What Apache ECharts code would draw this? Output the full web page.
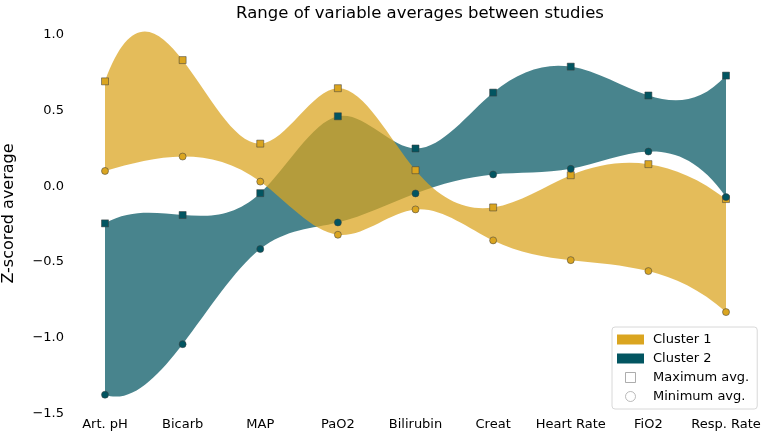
<!DOCTYPE html>
<html>
<head>
<meta charset="utf-8">
<script src="https://cdn.jsdelivr.net/npm/echarts@6/dist/echarts.min.js"></script>
<style>html,body{margin:0;padding:0;background:#fff}#c{width:762px;height:432px}</style>
</head>
<body>
<div id="c"></div>
<script>
var categories = ['Art. pH', 'Bicarb', 'MAP', 'PaO2', 'Bilirubin', 'Creat', 'Heart Rate', 'FiO2', 'Resp. Rate'];
var cluster1Max = [0.69, 0.83, 0.28, 0.645, 0.105, -0.14, 0.072, 0.145, -0.085];
var cluster1Min = [0.10, 0.195, 0.03, -0.32, -0.153, -0.357, -0.487, -0.559, -0.829];
var cluster2Max = [-0.245, -0.19, -0.046, 0.46, 0.248, 0.616, 0.787, 0.597, 0.728];
var cluster2Min = [-1.373, -1.04, -0.414, -0.239, -0.048, 0.077, 0.114, 0.228, -0.072];
var yTicks = [-1.5, -1.0, -0.5, 0.0, 0.5, 1.0];

var GOLD = '#DAA520', TEAL = '#025561';
var GOLD_FILL = 'rgba(218,165,32,0.74)', TEAL_FILL = 'rgba(2,85,97,0.72)';
var FONT = 'DejaVu Sans';

// Second derivatives of a not-a-knot cubic spline through (i, y[i]), unit spacing.
function splineM(y) {
  var n = y.length, A = [], b = [], i, j, k;
  for (i = 0; i < n; i++) { A.push(new Array(n).fill(0)); b.push(0); }
  A[0][0] = 1; A[0][1] = -2; A[0][2] = 1;
  for (i = 1; i < n - 1; i++) {
    A[i][i - 1] = 1; A[i][i] = 4; A[i][i + 1] = 1;
    b[i] = 6 * (y[i + 1] - 2 * y[i] + y[i - 1]);
  }
  A[n - 1][n - 3] = 1; A[n - 1][n - 2] = -2; A[n - 1][n - 1] = 1;
  for (k = 0; k < n; k++) {
    var p = k;
    for (i = k + 1; i < n; i++) if (Math.abs(A[i][k]) > Math.abs(A[p][k])) p = i;
    var t = A[k]; A[k] = A[p]; A[p] = t; var tb = b[k]; b[k] = b[p]; b[p] = tb;
    for (i = k + 1; i < n; i++) {
      var f = A[i][k] / A[k][k];
      for (j = k; j < n; j++) A[i][j] -= f * A[k][j];
      b[i] -= f * b[k];
    }
  }
  var M = new Array(n).fill(0);
  for (i = n - 1; i >= 0; i--) {
    var s = b[i];
    for (j = i + 1; j < n; j++) s -= A[i][j] * M[j];
    M[i] = s / A[i][i];
  }
  return M;
}

// Bezier control points (data space) for each spline segment.
function bezierSegs(y) {
  var M = splineM(y), segs = [];
  for (var i = 0; i < y.length - 1; i++) {
    var dy = y[i + 1] - y[i];
    var d0 = dy - (2 * M[i] + M[i + 1]) / 6;
    var d1 = dy + (M[i] + 2 * M[i + 1]) / 6;
    segs.push([[i, y[i]], [i + 1 / 3, y[i] + d0 / 3], [i + 2 / 3, y[i + 1] - d1 / 3], [i + 1, y[i + 1]]]);
  }
  return segs;
}

function bandSeries(name, minArr, maxArr, fill, z) {
  return {
    type: 'custom', name: name, coordinateSystem: 'cartesian2d', z: z, clip: false, silent: true,
    data: [[0, maxArr[0]]],
    itemStyle: { color: fill },
    renderItem: function (params, api) {
      // category axis rounds fractional positions, so place x linearly between category 0 and 1
      var x0 = api.coord([0, 0])[0], x1 = api.coord([1, 0])[0];
      function c(pt) {
        var px = x0 + pt[0] * (x1 - x0);
        var py = api.coord([0, pt[1]])[1];
        return px.toFixed(2) + ' ' + py.toFixed(2);
      }
      var top = bezierSegs(maxArr), bot = bezierSegs(minArr);
      var d = 'M ' + c(top[0][0]);
      top.forEach(function (s) { d += ' C ' + c(s[1]) + ' ' + c(s[2]) + ' ' + c(s[3]); });
      d += ' L ' + c(bot[bot.length - 1][3]);
      for (var i = bot.length - 1; i >= 0; i--) {
        var s = bot[i];
        d += ' C ' + c(s[2]) + ' ' + c(s[1]) + ' ' + c(s[0]);
      }
      d += ' Z';
      return { type: 'path', shape: { pathData: d }, style: { fill: fill, stroke: null } };
    }
  };
}

function markers(data, shape, color, z) {
  return { type: 'scatter', data: data, symbol: shape, symbolSize: 7, z: z, clip: false, silent: true,
    itemStyle: { color: color, borderColor: 'rgba(60,60,60,0.65)', borderWidth: 0.8, opacity: 1 } };
}

var series = [
  bandSeries('Cluster 2', cluster2Min, cluster2Max, TEAL_FILL, 1),
  bandSeries('Cluster 1', cluster1Min, cluster1Max, GOLD_FILL, 2),
  markers(cluster1Max, 'rect', GOLD, 5),
  markers(cluster1Min, 'circle', GOLD, 5),
  markers(cluster2Max, 'rect', TEAL, 6),
  markers(cluster2Min, 'circle', TEAL, 6),
  { type: 'scatter', name: 'Maximum avg.', data: [], itemStyle: { color: '#fff', borderColor: '#999', borderWidth: 1 } },
  { type: 'scatter', name: 'Minimum avg.', data: [], itemStyle: { color: '#fff', borderColor: '#999', borderWidth: 1 } }
];

var chart = echarts.init(document.getElementById('c'), null, { renderer: 'canvas' });
chart.setOption({
  animation: false,
  backgroundColor: '#fff',
  textStyle: { fontFamily: FONT },
  title: {
    text: 'Range of variable averages between studies',
    left: 415, top: 0, textAlign: 'center',
    textStyle: { fontFamily: FONT, fontSize: 16.5, fontWeight: 'normal', color: '#000' }
  },
  grid: { left: 105, right: 36, top: 13, bottom: 18, containLabel: false, outerBoundsMode: 'none' },
  legend: {
    orient: 'vertical', left: 612, top: 327,
    padding: [6, 8, 6, 5], itemGap: 6, itemWidth: 27, itemHeight: 10,
    borderColor: '#d8d8d8', borderWidth: 1, borderRadius: 3, backgroundColor: 'rgba(255,255,255,0.85)',
    textStyle: { fontFamily: FONT, fontSize: 13, color: '#000', padding: [0, 0, 0, 4] },
    data: [
      { name: 'Cluster 1', icon: 'rect', itemStyle: { color: GOLD, borderWidth: 0 } },
      { name: 'Cluster 2', icon: 'rect', itemStyle: { color: TEAL, borderWidth: 0 } },
      { name: 'Maximum avg.', icon: 'path://M0,0H10V10H0Z', itemStyle: { color: '#fff', borderColor: '#999', borderWidth: 1 } },
      { name: 'Minimum avg.', icon: 'circle', itemStyle: { color: '#fff', borderColor: '#aaa', borderWidth: 1 } }
    ],
    selectedMode: false
  },
  xAxis: {
    type: 'category', data: categories, boundaryGap: false,
    axisLine: { show: false }, axisTick: { show: false }, splitLine: { show: false },
    axisLabel: { fontFamily: FONT, fontSize: 13, color: '#000', margin: 4, interval: 0 }
  },
  yAxis: {
    type: 'value', min: yTicks[0], max: 1.14, interval: 0.5,
    name: 'Z-scored average', nameLocation: 'middle', nameGap: 88, nameRotate: 90,
    nameTextStyle: { fontFamily: FONT, fontSize: 16, color: '#000' },
    axisLine: { show: false }, axisTick: { show: false }, splitLine: { show: false },
    axisLabel: {
      fontFamily: FONT, fontSize: 13, color: '#000', margin: 41,
      formatter: function (v) {
        for (var i = 0; i < yTicks.length; i++) {
          if (Math.abs(v - yTicks[i]) < 1e-6) return yTicks[i].toFixed(1).replace('-', '\u2212');
        }
        return '';
      }
    }
  },
  series: series
});
</script>
</body>
</html>
